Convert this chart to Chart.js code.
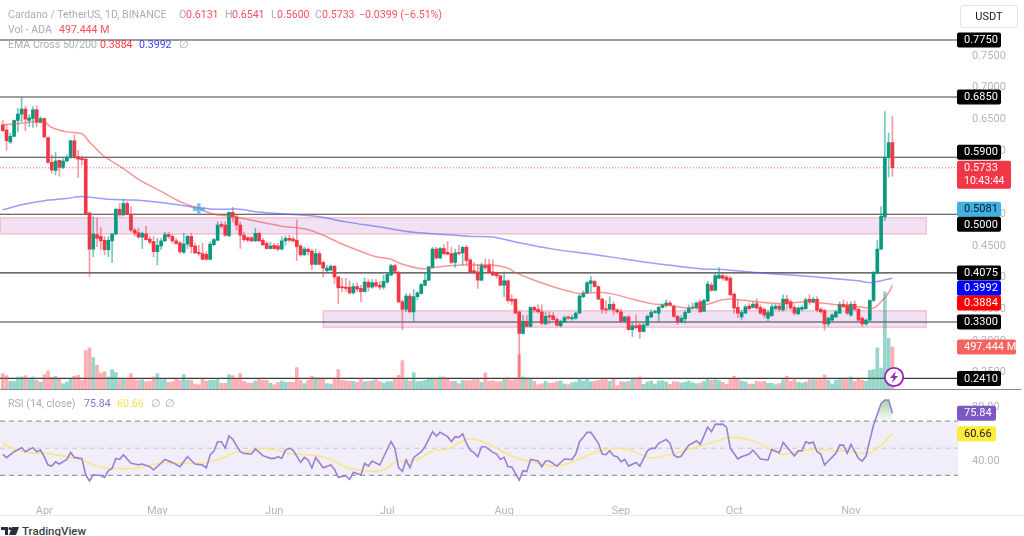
<!DOCTYPE html>
<html>
<head>
<meta charset="utf-8">
<title>Cardano / TetherUS</title>
<script src="https://cdn.jsdelivr.net/npm/chart.js@4"></script>
<style>
  html,body{margin:0;padding:0;background:#fff;overflow:hidden;}
  body{width:1024px;height:536px;position:relative;font-family:Roboto,sans-serif;}
  canvas{position:absolute;left:0;}
  #mainChart{top:0;}
  #rsiChart{top:390px;}
  .t{position:absolute;white-space:nowrap;font-size:10.6px;line-height:14px;color:#a9adb6;}
  .r{color:#f7525f;}
  .sep{position:absolute;left:0;height:1px;}
</style>
</head>
<body>
<canvas id="mainChart" width="1024" height="389"></canvas>
<canvas id="rsiChart" width="1024" height="125"></canvas>

<div class="sep" style="top:389px;width:1021px;background:#8a8a8a"></div>
<div class="sep" style="top:515px;width:1024px;background:#e6e8ee"></div>

<div class="t" style="left:8px;top:8px">Cardano / TetherUS, 1D, BINANCE</div>
<div class="t" style="left:179px;top:8px">O</div><div class="t r" style="left:186px;top:8px">0.6131</div>
<div class="t" style="left:225px;top:8px">H</div><div class="t r" style="left:232px;top:8px">0.6541</div>
<div class="t" style="left:271px;top:8px">L</div><div class="t r" style="left:277px;top:8px">0.5600</div>
<div class="t" style="left:315px;top:8px">C</div><div class="t r" style="left:322px;top:8px">0.5733</div>
<div class="t r" style="left:359px;top:8px">−0.0399 (−6.51%)</div>
<div class="t" style="left:8px;top:23px">Vol - ADA</div><div class="t r" style="left:59px;top:23px">497.444 M</div>
<div class="t" style="left:8px;top:38px">EMA Cross 50/200</div>
<div class="t" style="left:100px;top:38px;color:#f53b3b">0.3884</div>
<div class="t" style="left:139px;top:38px;color:#3d3df5">0.3992</div>
<div class="t" style="left:179px;top:38px">∅</div>
<div class="t" style="left:8px;top:397px">RSI (14, close)</div>
<div class="t" style="left:84px;top:397px;color:#8e6fd0">75.84</div>
<div class="t" style="left:117px;top:397px;color:#f5e15a">60.66</div>
<div class="t" style="left:151px;top:397px">∅</div>
<div class="t" style="left:165px;top:397px">∅</div>

<div style="position:absolute;left:960px;top:5px;width:56px;height:21px;border:1px solid #e0e3eb;border-radius:3px;box-sizing:content-box;text-align:center;font-size:11px;line-height:21px;color:#131722">USDT</div>

<svg style="position:absolute;left:883px;top:366px" width="22" height="22" viewBox="0 0 22 22">
  <circle cx="11" cy="11" r="9.2" fill="#fff" stroke="#9c27b0" stroke-width="1.8"/>
  <path d="M13 5 L7 12 H10.5 L8.8 17 L15 10 H11.5 Z" fill="#9c27b0"/>
</svg>

<svg style="position:absolute;left:1px;top:527px" width="18" height="9" viewBox="0 0 18 9">
  <path d="M0 0H7V8H4V3H0Z M8 8L11 0H18L15 8Z M7.5 1.5a1.5 1.5 0 1 0 3 0a1.5 1.5 0 1 0 -3 0" fill="#2a2e39"/>
</svg>
<div class="t" style="left:22px;top:524px;color:#3a3e49;font-size:11.5px;font-weight:500">TradingView</div>

<script>
// =========================
// DATA
// =========================

const opens = [
  .641,.633,.614,.623,.648,.658,.666,.648,.651,.665,
  .645,.651,.621,.582,.569,.585,.574,.584,.590,.616,
  .591,.588,.587,.502,.445,.468,.465,.459,.444,.458,
  .469,.508,.499,.517,.500,.475,.471,.464,.469,.461,
  .457,.441,.450,.458,.468,.465,.458,.455,.440,.453,
  .465,.450,.440,.438,.437,.429,.452,.459,.484,.483,
  .466,.503,.496,.483,.467,.463,.463,.458,.470,.459,
  .454,.446,.451,.450,.445,.458,.462,.461,.459,.450,
  .436,.445,.442,.421,.438,.424,.411,.412,.418,.401,
  .385,.385,.385,.376,.386,.383,.378,.393,.385,.392,
  .388,.385,.393,.404,.419,.408,.362,.350,.371,.346,
  .370,.375,.388,.396,.416,.445,.431,.446,.440,.438,
  .424,.439,.439,.448,.428,.411,.409,.396,.419,.420,
  .409,.407,.403,.388,.395,.366,.366,.346,.312,.331,
  .323,.353,.350,.346,.327,.340,.340,.334,.324,.330,
  .338,.335,.336,.344,.370,.376,.391,.394,.386,.366,
  .351,.350,.358,.349,.346,.331,.338,.318,.324,.325,
  .315,.325,.338,.345,.344,.353,.356,.360,.355,.339,
  .330,.335,.345,.352,.352,.362,.347,.363,.388,.380,
  .399,.403,.401,.399,.374,.353,.338,.344,.355,.353,
  .359,.353,.350,.336,.340,.351,.355,.349,.366,.362,
  .353,.343,.350,.351,.366,.362,.366,.350,.348,.327,
  .333,.338,.344,.358,.357,.341,.358,.350,.336,.327,
  .333,.364,.407,.445,.496,.590,.6131
];
const highs = [
  .648,.641,.628,.649,.667,.684,.670,.657,.670,.671,
  .654,.652,.622,.594,.598,.586,.588,.594,.617,.625,
  .601,.592,.591,.504,.496,.494,.479,.465,.465,.470,
  .509,.517,.524,.520,.512,.478,.478,.472,.481,.465,
  .465,.462,.462,.472,.472,.468,.462,.457,.470,.467,
  .470,.454,.451,.454,.441,.457,.462,.488,.488,.488,
  .504,.511,.500,.488,.472,.465,.465,.478,.472,.462,
  .457,.456,.454,.454,.465,.466,.467,.464,.491,.452,
  .448,.446,.445,.445,.441,.426,.420,.420,.419,.402,
  .399,.399,.395,.391,.392,.388,.399,.397,.397,.397,
  .394,.404,.407,.421,.421,.410,.365,.375,.375,.381,
  .378,.391,.406,.418,.448,.448,.448,.452,.457,.448,
  .445,.451,.449,.451,.430,.424,.420,.423,.430,.429,
  .428,.409,.404,.409,.396,.373,.367,.347,.340,.340,
  .354,.355,.357,.357,.346,.346,.345,.337,.333,.340,
  .340,.341,.346,.373,.379,.394,.402,.396,.387,.368,
  .364,.370,.362,.351,.350,.339,.340,.328,.341,.328,
  .329,.341,.349,.349,.355,.359,.365,.363,.357,.341,
  .340,.349,.357,.360,.362,.365,.366,.394,.392,.406,
  .416,.405,.404,.402,.376,.365,.349,.357,.359,.362,
  .367,.357,.352,.349,.358,.358,.358,.373,.372,.365,
  .357,.354,.356,.368,.373,.369,.370,.353,.350,.338,
  .343,.349,.362,.365,.362,.362,.363,.352,.338,.335,
  .365,.410,.459,.512,.662,.628,.6541
];
const lows = [
  .630,.601,.612,.622,.630,.646,.632,.638,.637,.638,
  .644,.621,.580,.565,.562,.560,.572,.583,.588,.588,
  .558,.578,.500,.402,.433,.449,.444,.436,.433,.424,
  .467,.496,.497,.499,.472,.466,.462,.446,.459,.453,
  .433,.420,.444,.457,.462,.454,.452,.438,.438,.446,
  .439,.438,.435,.428,.427,.428,.450,.458,.478,.465,
  .465,.488,.475,.446,.457,.457,.457,.457,.457,.450,
  .445,.445,.445,.442,.444,.451,.457,.456,.427,.434,
  .435,.436,.413,.420,.420,.401,.409,.411,.391,.359,
  .378,.378,.374,.374,.378,.362,.377,.379,.383,.385,
  .381,.382,.391,.403,.407,.360,.318,.346,.345,.331,
  .365,.374,.387,.395,.415,.430,.430,.436,.436,.422,
  .416,.436,.420,.420,.407,.407,.383,.395,.412,.407,
  .403,.399,.387,.370,.361,.357,.343,.241,.311,.322,
  .322,.345,.344,.326,.326,.327,.333,.323,.322,.329,
  .334,.333,.334,.343,.368,.375,.378,.385,.365,.344,
  .343,.349,.341,.344,.330,.329,.317,.307,.319,.304,
  .314,.324,.337,.344,.330,.352,.353,.355,.337,.326,
  .329,.328,.344,.350,.350,.345,.346,.362,.379,.379,
  .398,.396,.395,.371,.344,.337,.333,.343,.349,.352,
  .350,.342,.336,.332,.339,.349,.347,.347,.350,.349,
  .341,.341,.348,.350,.358,.360,.346,.344,.317,.323,
  .331,.337,.343,.352,.342,.339,.348,.332,.323,.325,
  .332,.362,.406,.444,.490,.559,.5600
];
const closes = [
  .632,.616,.623,.648,.658,.666,.650,.652,.665,.645,
  .651,.622,.582,.570,.584,.574,.584,.590,.616,.591,
  .587,.586,.501,.445,.469,.462,.458,.444,.459,.469,
  .508,.499,.517,.500,.475,.470,.464,.470,.460,.456,
  .441,.451,.458,.468,.465,.458,.454,.441,.453,.465,
  .449,.439,.438,.429,.429,.453,.460,.483,.481,.467,
  .503,.496,.483,.467,.460,.459,.458,.470,.458,.452,
  .446,.450,.446,.445,.458,.462,.459,.458,.449,.436,
  .445,.441,.421,.438,.421,.415,.415,.418,.401,.384,
  .384,.383,.376,.386,.382,.378,.393,.385,.392,.387,
  .385,.394,.405,.419,.410,.362,.350,.371,.346,.370,
  .376,.389,.396,.417,.445,.431,.446,.438,.437,.424,
  .439,.438,.448,.427,.409,.408,.396,.420,.416,.408,
  .404,.403,.388,.395,.364,.363,.344,.312,.331,.323,
  .353,.349,.346,.328,.339,.338,.334,.325,.331,.337,
  .336,.337,.344,.371,.376,.392,.395,.386,.366,.350,
  .349,.358,.349,.346,.331,.338,.318,.324,.321,.315,
  .325,.339,.345,.346,.353,.357,.360,.357,.339,.330,
  .336,.345,.352,.353,.360,.346,.364,.390,.380,.403,
  .404,.399,.396,.373,.352,.344,.345,.354,.351,.358,
  .352,.344,.341,.345,.354,.355,.350,.366,.359,.352,
  .344,.352,.353,.365,.362,.366,.349,.346,.327,.336,
  .341,.346,.358,.354,.344,.358,.350,.333,.327,.333,
  .364,.408,.445,.497,.590,.613,.5733
];
// volume in millions
const volumes = [
  182,158,91,91,142,142,158,111,142,103,
  79,170,213,138,150,118,63,83,130,150,
  162,103,454,486,371,280,190,205,142,229,
  194,111,126,130,182,111,103,111,87,91,
  142,182,111,111,79,87,118,103,170,103,
  103,59,51,130,91,103,103,126,67,67,
  170,158,118,182,91,71,71,95,118,103,
  103,71,51,79,95,79,79,79,253,103,
  63,103,150,130,130,130,63,59,130,229,
  103,99,91,91,79,130,87,91,99,111,
  87,71,87,87,118,162,336,111,95,194,
  87,91,103,118,118,118,142,142,118,91,
  91,63,103,99,99,111,111,79,190,91,
  99,87,87,111,134,103,111,407,142,130,
  130,91,51,63,91,71,71,87,95,59,
  51,75,83,126,95,118,87,91,103,111,
  111,91,118,40,87,83,91,130,130,142,
  55,83,95,59,95,99,83,55,87,83,
  71,79,95,75,63,71,91,130,103,111,
  103,79,55,111,150,118,95,83,59,59,
  91,83,91,67,67,51,67,111,150,91,
  126,79,71,83,111,111,111,111,166,103,
  59,103,111,111,111,142,91,118,103,91,
  221,229,486,248,1150,600,497.444
];

const ema50Days = [0,2,5,8,11,13,17,21,23,26,28,32,36,42,47,51,56,60,63,69,74,80,85,90,96,99,103,106,111,113,117,122,127,130,134,136,141,148,153,158,162,167,172,176,182,187,191,194,200,207,213,220,227,231,233,235,236];
const ema50Vals = [.641,.642,.6435,.646,.646,.637,.630,.627,.614,.596,.587,.572,.555,.536,.520,.511,.500,.497,.494,.487,.481,.477,.467,.453,.439,.433,.429,.421,.414,.415,.418,.420,.420,.420,.415,.408,.396,.382,.375,.377,.374,.366,.359,.357,.352,.358,.365,.366,.362,.359,.362,.358,.354,.352,.362,.376,.3884];
const ema200Days = [0,5,11,17,21,28,35,44,51,56,63,67,76,84,91,100,109,115,124,130,137,146,155,162,171,185,191,200,209,218,227,230,233,236];
const ema200Vals = [.507,.515,.5215,.525,.528,.5236,.5225,.517,.511,.508,.508,.504,.500,.496,.488,.480,.4715,.469,.465,.464,.455,.445,.438,.432,.424,.414,.413,.408,.404,.400,.395,.392,.395,.3992];

const levels = [.775,.685,.59,.5,.4075,.33,.241];
const zoneStart = [-1,85];
const zoneEnd = [245,245];
const zoneTop = [.4946,.3478];
const zoneBottom = [.4689,.3216];
const lastPrice = .5733;
const crossDay = [52];
const crossPrice = [.5081];
const priceTicks = [.75,.7,.65,.6,.55,.5,.45,.4,.35,.3,.25];

const rsiDays = [0,1,3,5,6,8,9,10,11,12,13,14,15,17,18,19,21,22,23,24,26,27,28,29,30,31,32,34,36,37,39,40,43,45,47,49,51,53,54,55,56,57,58,59,60,61,63,64,66,67,69,71,72,73,74,75,76,77,79,80,81,82,83,85,87,88,89,
  91,92,93,95,96,97,98,100,103,104,105,106,107,108,109,111,112,114,115,116,118,119,120,121,122,123,124,125,126,127,128,130,131,132,133,134,135,137,138,139,140,142,143,144,145,147,149,151,152,153,154,155,156,158,159,160,161,162,163,164,165,166,168,169,171,172,173,174,176,177,178,179,
  180,182,183,184,185,187,188,189,191,192,193,195,196,198,199,201,203,204,206,207,210,211,212,213,214,215,216,217,218,221,222,223,224,225,227,228,229,230,231,233,234,235,236];
const rsiVals = [45.4,43,47.4,50.4,47.4,50.4,47.4,48.6,43.7,37.6,36.8,40,38.3,41.7,46.9,43.2,42.2,30.2,25.8,30.4,29.9,28.5,33.4,35.1,42.5,41.7,45.2,38.8,37.8,38.3,36.3,33.9,41.7,39.5,36.3,43.7,38.3,37.6,35.4,45,47.9,54.8,54.8,49.9,59,56.5,47.4,46.2,45.7,49.4,44.5,42.5,42.5,43.7,42.5,48.6,49.9,48.6,39.5,43.2,41.3,35.4,43.2,35.6,37.6,34.4,28.5,
  29.7,27,32.2,30.2,38.8,36.8,40.5,37.6,55,49.9,35.6,32.9,41.3,35.6,43,47.4,51.1,62.2,59,61.7,58.5,54.8,58.5,58,60.5,53.6,48.6,46.7,43.7,51.1,51.1,46.9,45.7,41.7,43.2,36.3,36.3,26.5,33.4,32.7,41.7,40.5,36.3,40.5,40.5,36.8,42,41.7,45.7,54.8,58,61.7,61.7,53.6,45.7,45.2,48.1,44.5,43.7,40,41.7,36.8,39.5,36.8,48.1,49.9,49.9,53.6,56.5,53.6,45,43.2,
  44.2,52.3,53.6,55.5,52.8,65.4,62.2,67.6,67.8,65.4,49.9,42,43.7,45.7,48.6,42,41.3,49.1,46.7,54.3,44.2,48.1,48.1,54.8,53.6,54.5,47.4,45.7,37.6,46.2,52.3,52.3,46.2,52.8,42.5,40.5,44.2,56,67.1,83.1,85.5,85.5,75.84];
const rsiMaDays = [0,1,4,7,11,15,19,21,25,28,35,38,42,46,51,54,58,60,62,66,69,73,77,82,87,89,92,96,101,104,110,114,118,123,127,131,135,139,143,147,150,156,159,164,167,172,179,184,188,193,199,202,206,210,215,220,224,229,232,236];
const rsiMaVals = [54.8,51.6,48.6,46.7,46.2,44.7,42.5,41.3,36.8,35.4,35.1,37.1,38.8,38.8,38.8,39.3,42.5,45,47.2,47.9,49.9,48.1,45.7,45,42,38.8,35.1,33.4,33.9,39.3,41.8,47.9,49.4,56.5,55.3,49.9,44.2,40.5,38.3,36.8,38.8,45.7,48.6,49.9,48.1,43,46.7,51.1,54,58,55.3,51.6,45.7,46.7,49.1,48.1,48.1,46.2,49.9,60.66];
const rsiBands = [70,50,30];
const rsiTicks = [80,40];

const monthDays = [11,41,72,102,133,164,194,225];
const monthLabels = ["Apr","May","Jun","Jul","Aug","Sep","Oct","Nov"];

// =========================
// HELPERS
// =========================

const UP = "#089981", DOWN = "#f23645";
const isUp = i => closes[i] >= opens[i];
const days = opens.map((o,i) => i);
const pts = (xs,ys) => xs.map((x,i) => ({x, y:ys[i]}));

// labels at the ends of an axis must not shrink the plot
function noPad(s){
  s.paddingLeft = 0; s.paddingRight = 0; s.paddingTop = 0; s.paddingBottom = 0;
}

function priceTag(ctx, yMid, w, bg, fg, text, text2){
  const h = text2 ? 28 : 15;
  ctx.fillStyle = bg;
  ctx.beginPath();
  ctx.roundRect(957, yMid - h/2, w, h, 2);
  ctx.fill();
  ctx.fillStyle = fg;
  ctx.font = "11px Roboto";
  ctx.textBaseline = "middle";
  ctx.textAlign = "left";
  if(text2){
    ctx.fillText(text, 964, yMid - 6.5);
    ctx.font = "10.5px Roboto";
    ctx.fillText(text2, 964, yMid + 7);
  } else {
    ctx.fillText(text, 964, yMid + .5);
  }
}

// =========================
// MAIN CHART
// =========================

const mainPlugin = {
  id:"mainExtras",
  beforeDatasetsDraw(chart){
    const {ctx, chartArea:a, scales:{x,y}} = chart;
    ctx.save();
    zoneTop.forEach((t,i) => {
      const x0 = Math.max(x.getPixelForValue(zoneStart[i]), a.left), x1 = x.getPixelForValue(zoneEnd[i]);
      const y0 = y.getPixelForValue(t), y1 = y.getPixelForValue(zoneBottom[i]);
      ctx.fillStyle = "rgba(186,104,200,.2)";
      ctx.fillRect(x0, y0, x1-x0, y1-y0);
      ctx.strokeStyle = "rgba(242,54,69,.25)";
      ctx.lineWidth = 1.5;
      ctx.strokeRect(x0, y0, x1-x0, y1-y0);
    });
    ctx.strokeStyle = "#3c3c3c";
    ctx.lineWidth = 1.1;
    levels.forEach(v => {
      const py = y.getPixelForValue(v);
      ctx.beginPath(); ctx.moveTo(a.left, py); ctx.lineTo(a.right, py); ctx.stroke();
    });
    const ly = y.getPixelForValue(lastPrice);
    ctx.strokeStyle = "rgba(242,54,69,.75)";
    ctx.lineWidth = 1;
    ctx.setLineDash([1,2]);
    ctx.beginPath(); ctx.moveTo(a.left, ly); ctx.lineTo(a.right, ly); ctx.stroke();
    ctx.restore();
  },
  afterDraw(chart){
    const {ctx, scales:{y,vol}} = chart;
    const py = v => y.getPixelForValue(v);
    ctx.save();
    priceTag(ctx, py(.775), 44, "#000", "#fff", "0.7750");
    priceTag(ctx, py(.685), 44, "#000", "#fff", "0.6850");
    priceTag(ctx, py(.59)-5, 44, "#000", "#fff", "0.5900");
    priceTag(ctx, py(lastPrice)+7, 54, "#f23645", "#fff", "0.5733", "10:43:44");
    priceTag(ctx, py(.5081), 44, "#3fb1e3", "#131722", "0.5081");
    priceTag(ctx, py(.5)+10, 44, "#000", "#fff", "0.5000");
    priceTag(ctx, py(.4075), 44, "#000", "#fff", "0.4075");
    priceTag(ctx, py(.3992)+10, 44, "#0000ff", "#fff", "0.3992");
    priceTag(ctx, py(.3884)+18, 44, "#ff0000", "#fff", "0.3884");
    priceTag(ctx, py(.33), 44, "#000", "#fff", "0.3300");
    priceTag(ctx, vol.getPixelForValue(497.444), 59, "#f7645f", "#fff", "497.444 M");
    priceTag(ctx, py(.241), 44, "#000", "#fff", "0.2410");
    ctx.restore();
  }
};

new Chart(document.getElementById("mainChart"),{
  type:"bar",
  data:{
    datasets:[
      {type:"line", data:pts(crossDay,crossPrice), showLine:false, pointStyle:"cross", pointRadius:6, pointBorderWidth:3.5, pointBorderColor:"rgba(64,170,226,.7)", order:0},
      {type:"line", data:pts(ema50Days,ema50Vals), borderColor:"rgba(242,80,80,.6)", borderWidth:1.5, pointRadius:0, tension:.3, order:2},
      {type:"line", data:pts(ema200Days,ema200Vals), borderColor:"rgba(90,90,245,.6)", borderWidth:1.5, pointRadius:0, tension:.3, order:2},
      {data:days.map(i => ({x:i, y:[opens[i],closes[i]]})), backgroundColor:days.map(i => isUp(i)?UP:DOWN), barThickness:3, minBarLength:1, grouped:false, order:3},
      {data:days.map(i => ({x:i, y:[lows[i],highs[i]]})), backgroundColor:days.map(i => isUp(i)?"rgba(8,153,129,.55)":"rgba(242,54,69,.5)"), barThickness:1, grouped:false, order:4},
      {data:days.map(i => ({x:i, y:volumes[i]})), yAxisID:"vol", backgroundColor:days.map(i => isUp(i)?"rgba(8,153,129,.42)":"rgba(242,54,69,.4)"), barThickness:3, grouped:false, order:5}
    ]
  },
  options:{
    responsive:false,
    animation:false,
    events:[],
    layout:{padding:0, autoPadding:false},
    plugins:{legend:{display:false},tooltip:{enabled:false}},
    scales:{
      x:{type:"linear", display:false, offset:false, min:-.74, max:253.4, grid:{display:false}, ticks:{display:false}, afterFit:noPad},
      y:{
        position:"right", min:.2243, max:.8381,
        grid:{display:false}, border:{display:false},
        afterBuildTicks(s){ s.ticks = priceTicks.map(v => ({value:v})); },
        afterFit(s){ s.width = 66; noPad(s); },
        ticks:{color:"#b2b5be", padding:6, font:{family:"Roboto",size:11}, callback:v => v.toFixed(4)}
      },
      vol:{display:false, position:"left", min:0, max:4606, grid:{display:false}, ticks:{display:false}, afterFit:noPad}
    }
  },
  plugins:[mainPlugin]
});

// =========================
// RSI CHART
// =========================

const rsiPlugin = {
  id:"rsiExtras",
  beforeDatasetsDraw(chart){
    const {ctx, chartArea:a, scales:{y}} = chart;
    ctx.save();
    ctx.fillStyle = "rgba(126,87,194,.1)";
    ctx.fillRect(a.left, y.getPixelForValue(70), a.right-a.left, y.getPixelForValue(30)-y.getPixelForValue(70));
    ctx.setLineDash([5,4]);
    ctx.lineWidth = 1;
    rsiBands.forEach(v => {
      ctx.strokeStyle = v === 50 ? "rgba(120,123,134,.35)" : "rgba(90,90,100,.75)";
      const py = y.getPixelForValue(v);
      ctx.beginPath(); ctx.moveTo(a.left, py); ctx.lineTo(a.right, py); ctx.stroke();
    });
    ctx.restore();
  },
  afterDraw(chart){
    const {ctx, scales:{y}} = chart;
    ctx.save();
    priceTag(ctx, y.getPixelForValue(75.84), 39, "#7e57c2", "#fff", "75.84");
    priceTag(ctx, y.getPixelForValue(60.66), 39, "#ffeb3b", "#131722", "60.66");
    ctx.restore();
  }
};

const rsiCtx = document.getElementById("rsiChart").getContext("2d");
const overFill = rsiCtx.createLinearGradient(0,8,0,31);
overFill.addColorStop(0,"rgba(76,175,80,.55)");
overFill.addColorStop(1,"rgba(76,175,80,.03)");

new Chart(rsiCtx,{
  type:"line",
  data:{
    datasets:[
      {data:pts(rsiMaDays,rsiMaVals), borderColor:"#f9e68a", borderWidth:1.6, pointRadius:0, tension:.4, order:2},
      {data:pts(rsiDays,rsiVals), borderColor:"#9a7fd3", borderWidth:1.6, pointRadius:0, tension:0, order:1,
       fill:{target:{value:70}, above:overFill, below:"rgba(0,0,0,0)"}}
    ]
  },
  options:{
    responsive:false,
    animation:false,
    events:[],
    layout:{padding:0, autoPadding:false},
    plugins:{legend:{display:false},tooltip:{enabled:false}},
    scales:{
      x:{
        type:"linear", min:-.74, max:253.4, grid:{display:false}, border:{display:false},
        afterBuildTicks(s){ s.ticks = monthDays.map(v => ({value:v})); },
        afterFit(s){ s.height = 25; noPad(s); },
        ticks:{color:"#b2b5be", padding:7, autoSkip:false, maxRotation:0, font:{family:"Roboto",size:11},
          callback:v => monthLabels[monthDays.indexOf(v)]}
      },
      y:{
        position:"right", min:19.15, max:92.95,
        grid:{display:false}, border:{display:false},
        afterBuildTicks(s){ s.ticks = rsiTicks.map(v => ({value:v})); },
        afterFit(s){ s.width = 66; noPad(s); },
        ticks:{color:"#b2b5be", padding:6, font:{family:"Roboto",size:11}, callback:v => v.toFixed(2)}
      }
    }
  },
  plugins:[rsiPlugin]
});
</script>
</body>
</html>
